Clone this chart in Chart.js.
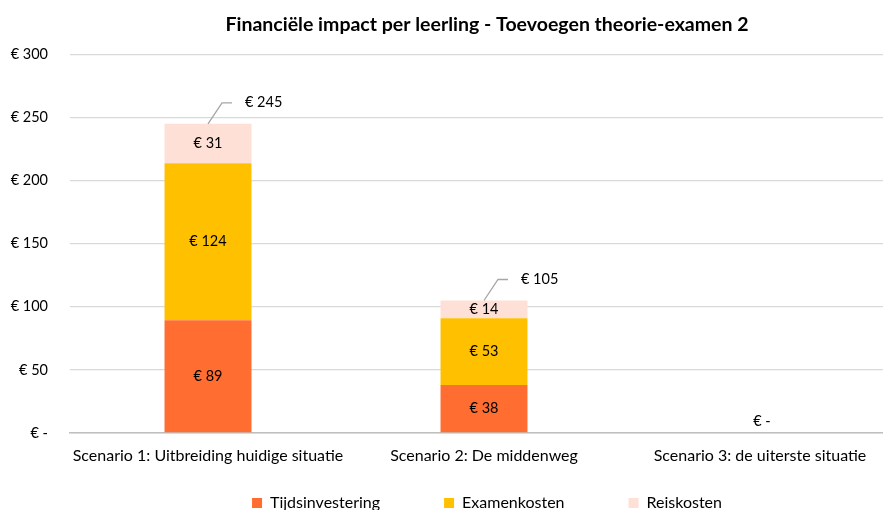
<!DOCTYPE html>
<html>
<head>
<meta charset="utf-8">
<script src="https://cdn.jsdelivr.net/npm/chart.js@4"></script>
<style>
  html, body { margin: 0; padding: 0; background: #fff; overflow: hidden; }
  canvas { display: block; }
</style>
</head>
<body>
<canvas id="chart" width="974" height="563"></canvas>
<script>
const categories = ['Scenario 1: Uitbreiding huidige situatie', 'Scenario 2: De middenweg', 'Scenario 3: de uiterste situatie'];
const tijdsinvestering = [89.4, 38, 0];
const examenkosten = [124.4, 53, 0];
const reiskosten = [31.2, 14, 0];
const totals = [245, 105, 0];
const yTicks = [0, 50, 100, 150, 200, 250, 300];

const FONT = 'Lato, "Liberation Sans", sans-serif';
const euro = v => v === 0 ? '€ -' : '€ ' + Math.round(v);

// labels inside the bars + totals with leader line
const labelPlugin = {
    id: 'labels',
    afterLayout(chart) {
        // pull the legend up closer to the axis (padding is only wanted sideways)
        chart.legend.top -= 42;
        chart.legend.bottom -= 42;
    },
    afterDatasetsDraw(chart) {
        const ctx = chart.ctx;
        ctx.save();
        ctx.font = '14.5px ' + FONT;
        ctx.fillStyle = '#000';
        ctx.textAlign = 'center';
        ctx.textBaseline = 'middle';
        chart.data.datasets.forEach((ds, i) => {
            const meta = chart.getDatasetMeta(i);
            meta.data.forEach((bar, j) => {
                if (!ds.data[j]) return;
                ctx.fillText(euro(ds.data[j]), bar.x, (bar.y + bar.base) / 2);
            });
        });
        const xs = chart.scales.x, ys = chart.scales.y;
        totals.forEach((t, j) => {
            const x = xs.getPixelForValue(j);
            const y = ys.getPixelForValue(t);
            if (t > 0) {
                ctx.strokeStyle = '#a6a6a6';
                ctx.lineWidth = 1.3;
                ctx.beginPath();
                ctx.moveTo(x, y);
                ctx.lineTo(x + 14, y - 21);
                ctx.lineTo(x + 24, y - 21);
                ctx.stroke();
                ctx.textAlign = 'left';
                ctx.fillText(euro(t), x + 37, y - 21);
            } else {
                ctx.textAlign = 'center';
                ctx.fillText(euro(t), x + 2, y - 12);
            }
        });
        ctx.restore();
    }
};

new Chart(document.getElementById('chart'), {
    type: 'bar',
    data: {
        labels: categories,
        datasets: [
            { label: 'Tijdsinvestering', data: tijdsinvestering, backgroundColor: '#FF6D31' },
            { label: 'Examenkosten', data: examenkosten, backgroundColor: '#FFC000' },
            { label: 'Reiskosten', data: reiskosten, backgroundColor: '#FFE0D6' }
        ]
    },
    options: {
        responsive: false,
        animation: false,
        categoryPercentage: 1,
        barPercentage: 0.315,
        plugins: {
            title: {
                display: true,
                text: 'Financiële impact per leerling - Toevoegen theorie-examen 2',
                color: '#000',
                font: { family: FONT, size: 19.5, weight: 'bold' },
                padding: { top: 13, bottom: 18 }
            },
            legend: {
                position: 'bottom',
                labels: {
                    color: '#000',
                    font: { family: FONT, size: 16 },
                    boxWidth: 10,
                    boxHeight: 10,
                    padding: 64
                }
            },
            tooltip: { enabled: false }
        },
        scales: {
            x: {
                stacked: true,
                grid: { display: false },
                border: { color: '#bfbfbf', width: 1.5 },
                ticks: { color: '#000', font: { family: FONT, size: 16 }, padding: 5, maxRotation: 0, autoSkip: false },
                afterFit: s => { s.height = 40; }
            },
            y: {
                stacked: true,
                min: 0,
                max: 300,
                afterBuildTicks: s => { s.ticks = yTicks.map(v => ({ value: v })); },
                grid: { color: '#d9d9d9', lineWidth: 1.3, drawTicks: false },
                border: { display: false },
                ticks: { color: '#000', font: { family: FONT, size: 14.5 }, padding: 22, callback: euro },
                afterFit: s => { s.width = 70; }
            },
            y2: {
                position: 'right',
                grid: { display: false },
                border: { display: false },
                ticks: { display: false },
                afterFit: s => { s.width = 76; }
            }
        }
    },
    plugins: [labelPlugin]
});
</script>
</body>
</html>
